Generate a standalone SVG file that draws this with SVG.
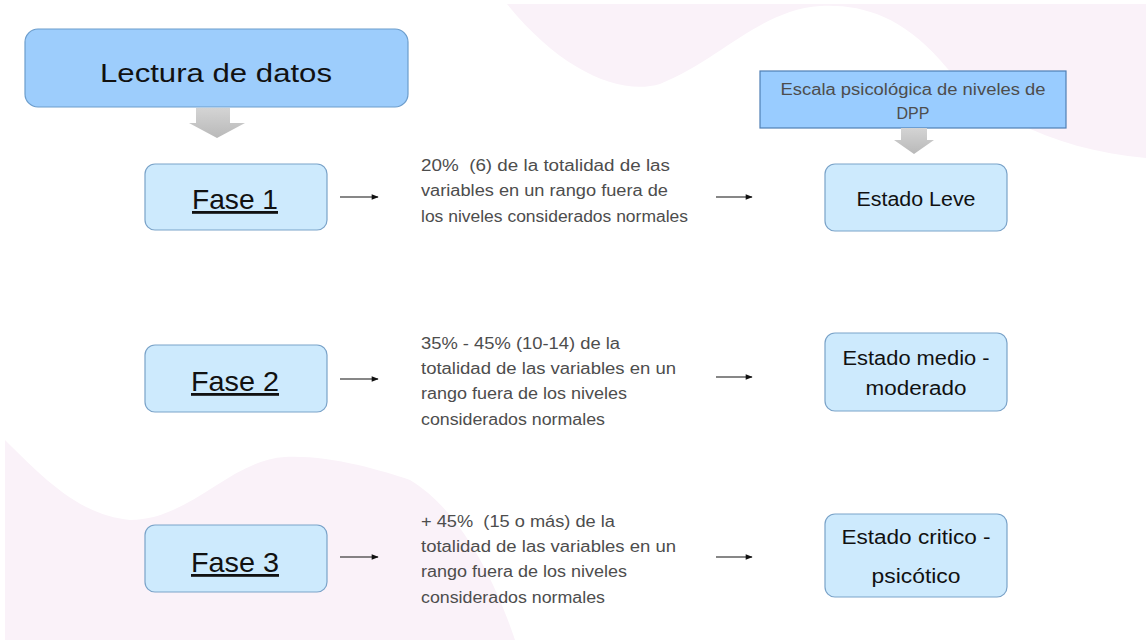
<svg xmlns="http://www.w3.org/2000/svg" width="1146" height="640" viewBox="0 0 1146 640">
<defs>
<style>
.bg{fill:#faf2f9}
.main{fill:#9dcdfc;stroke:#6c9dcc;stroke-width:1.2}
.phase{fill:#cdeafd;stroke:#7aa3c9;stroke-width:1.2}
.scale{fill:#99ccff;stroke:#4f7fb5;stroke-width:1.2}
.lbl{font-family:"Liberation Sans",Arial,sans-serif;fill:#111;text-anchor:middle}
.body{font-family:"Liberation Sans",Arial,sans-serif;fill:#4d4d4d;font-size:16px;white-space:pre}
.conn{stroke:#111;stroke-width:1.2;fill:none;marker-end:url(#ah)}
.block{fill:url(#gg)}
</style>
<linearGradient id="gg" x1="0" y1="0" x2="0" y2="1">
<stop offset="0" stop-color="#d4d4d4"/>
<stop offset="1" stop-color="#b9b9b9"/>
</linearGradient>
<marker id="ah" viewBox="0 0 10 10" refX="9" refY="5" markerWidth="8" markerHeight="7" markerUnits="userSpaceOnUse" orient="auto">
<path d="M0,1 L10,5 L0,9 Z" fill="#111"/>
</marker>
</defs>
<rect width="1146" height="640" fill="#ffffff"/>
<path class="bg" d="M507,4 L1146,4 L1146,158 C1060,150 990,120 940,60 C900,15 860,4 820,6 C760,10 720,60 660,84 C620,96 560,70 507,4 Z"/>
<path class="bg" d="M5,440 C45,480 80,515 130,520 C190,520 230,460 285,457 C330,455 380,470 410,480 C460,510 495,580 515,640 L5,640 Z"/>

<g id="lectura">
<rect class="main" x="25" y="29" width="383" height="78" rx="13"/>
<text class="lbl" x="216" y="82" font-size="26" textLength="232" lengthAdjust="spacingAndGlyphs">Lectura de datos</text>
</g>
<g id="arrow-lectura">
<path class="block" d="M196,108 L230,108 L230,123 L245,123 L217,138 L189,123 L196,123 Z"/>
</g>

<g id="escala">
<rect class="scale" x="760" y="71" width="306" height="57"/>
<text class="body" x="913" y="95" text-anchor="middle" textLength="265" lengthAdjust="spacingAndGlyphs">Escala psicológica de niveles de</text>
<text class="body" x="913" y="119" text-anchor="middle">DPP</text>
</g>
<g id="arrow-escala">
<path class="block" d="M901,128 L927,128 L927,140 L934,140 L914,154 L894,140 L901,140 Z"/>
</g>

<g id="fase1">
<rect class="phase" x="145" y="164" width="182" height="66" rx="10"/>
<text class="lbl" x="235" y="209" font-size="28" textLength="86" lengthAdjust="spacingAndGlyphs" text-decoration="underline">Fase 1</text>
</g>
<g id="fase2">
<rect class="phase" x="145" y="345" width="182" height="67" rx="10"/>
<text class="lbl" x="235" y="391" font-size="28" textLength="88" lengthAdjust="spacingAndGlyphs" text-decoration="underline">Fase 2</text>
</g>
<g id="fase3">
<rect class="phase" x="145" y="525" width="182" height="67" rx="10"/>
<text class="lbl" x="235" y="572" font-size="28" textLength="88" lengthAdjust="spacingAndGlyphs" text-decoration="underline">Fase 3</text>
</g>

<g id="desc1">
<text class="body" x="421" y="171" textLength="249" lengthAdjust="spacingAndGlyphs" xml:space="preserve">20%  (6) de la totalidad de las</text>
<text class="body" x="421" y="196" textLength="247" lengthAdjust="spacingAndGlyphs">variables en un rango fuera de</text>
<text class="body" x="421" y="222" textLength="267" lengthAdjust="spacingAndGlyphs">los niveles considerados normales</text>
</g>
<g id="desc2">
<text class="body" x="421" y="349" textLength="199" lengthAdjust="spacingAndGlyphs">35% - 45% (10-14) de la</text>
<text class="body" x="421" y="374" textLength="255" lengthAdjust="spacingAndGlyphs">totalidad de las variables en un</text>
<text class="body" x="421" y="399" textLength="206" lengthAdjust="spacingAndGlyphs">rango fuera de los niveles</text>
<text class="body" x="421" y="425" textLength="184" lengthAdjust="spacingAndGlyphs">considerados normales</text>
</g>
<g id="desc3">
<text class="body" x="421" y="527" textLength="194" lengthAdjust="spacingAndGlyphs" xml:space="preserve">+ 45%  (15 o más) de la</text>
<text class="body" x="421" y="552" textLength="255" lengthAdjust="spacingAndGlyphs">totalidad de las variables en un</text>
<text class="body" x="421" y="577" textLength="206" lengthAdjust="spacingAndGlyphs">rango fuera de los niveles</text>
<text class="body" x="421" y="603" textLength="184" lengthAdjust="spacingAndGlyphs">considerados normales</text>
</g>

<g id="leve">
<rect class="phase" x="825" y="164" width="182" height="67" rx="10"/>
<text class="lbl" x="916" y="206" font-size="20" textLength="119" lengthAdjust="spacingAndGlyphs">Estado Leve</text>
</g>
<g id="medio">
<rect class="phase" x="825" y="333" width="182" height="78" rx="10"/>
<text class="lbl" x="916" y="365" font-size="20" textLength="147" lengthAdjust="spacingAndGlyphs">Estado medio -</text>
<text class="lbl" x="916" y="395" font-size="20" textLength="101" lengthAdjust="spacingAndGlyphs">moderado</text>
</g>
<g id="critico">
<rect class="phase" x="825" y="514" width="182" height="83" rx="10"/>
<text class="lbl" x="916" y="544" font-size="20" textLength="149" lengthAdjust="spacingAndGlyphs">Estado critico -</text>
<text class="lbl" x="916" y="583" font-size="20" textLength="89" lengthAdjust="spacingAndGlyphs">psicótico</text>
</g>

<g id="connectors">
<line class="conn" x1="340" y1="197" x2="378" y2="197"/>
<line class="conn" x1="716" y1="197" x2="752" y2="197"/>
<line class="conn" x1="340" y1="379" x2="378" y2="379"/>
<line class="conn" x1="716" y1="377" x2="752" y2="377"/>
<line class="conn" x1="340" y1="557" x2="378" y2="557"/>
<line class="conn" x1="716" y1="557" x2="752" y2="557"/>
</g>
</svg>
